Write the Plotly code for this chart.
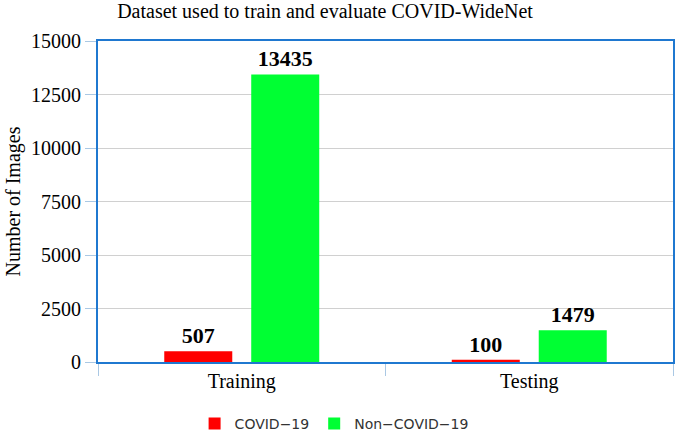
import plotly.graph_objects as go

categories = ["Training", "Testing"]
covid = [507, 100]
non_covid = [13435, 1479]
y_ticks = [0, 2500, 5000, 7500, 10000, 12500, 15000]

serif = "Liberation Serif"
label_font = dict(family=serif, size=22, color="black", weight="bold")

fig = go.Figure()
fig.add_trace(go.Bar(
    name="COVID\u221219", x=categories, y=covid, marker_color="#ff0000",
    marker_line_width=0,
    text=covid, textposition="outside", cliponaxis=False, textfont=label_font,
))
fig.add_trace(go.Bar(
    name="Non\u2212COVID\u221219", x=categories, y=non_covid, marker_color="#00ff33",
    marker_line_width=0,
    text=non_covid, textposition="outside", cliponaxis=False, textfont=label_font,
))

fig.update_layout(
    width=676, height=433,
    margin=dict(l=98, r=3, t=41, b=71, autoexpand=False),
    paper_bgcolor="white", plot_bgcolor="white",
    barmode="group", bargap=0.395, bargroupgap=0.218,
    title=dict(text="Dataset used to train and evaluate COVID-WideNet",
               x=325/676, xanchor="center", xref="container", y=1 - 11/433, yanchor="middle",
               font=dict(family=serif, size=20, color="black")),
    legend=dict(orientation="h", x=0.168, xanchor="left",
                y=-0.193, yanchor="middle",
                font=dict(family="DejaVu Sans", size=14, color="#333333")),
    showlegend=True,
    annotations=[dict(text="Number of Images", textangle=-90,
                      xref="paper", x=(13 - 98) / 575, xanchor="center",
                      yref="paper", y=0.5, yanchor="middle", showarrow=False,
                      borderpad=0,
                      font=dict(family=serif, size=20, color="black"))],
)
fig.update_yaxes(
    range=[0, 15000], tickvals=y_ticks, ticktext=[str(v) for v in y_ticks],
    showgrid=True, gridcolor="#d0d0d0", gridwidth=1,
    ticks="outside", ticklen=11, tickcolor="#aac8e4",
    tickfont=dict(family=serif, size=20, color="black"),
    showline=True, linecolor="#1f78d0", linewidth=2, mirror=True, zeroline=False,
    automargin=False,
)
fig.update_xaxes(
    tickson="boundaries", ticks="outside", ticklen=12, tickcolor="#aac8e4",
    tickfont=dict(family=serif, size=20, color="black"),
    showline=True, linecolor="#1f78d0", linewidth=2, mirror=True,
    automargin=False,
)

fig.write_html(
    "out.html",
    config={"displayModeBar": False},
    post_script="document.body.style.margin='0';document.body.style.overflow='hidden';",
)
